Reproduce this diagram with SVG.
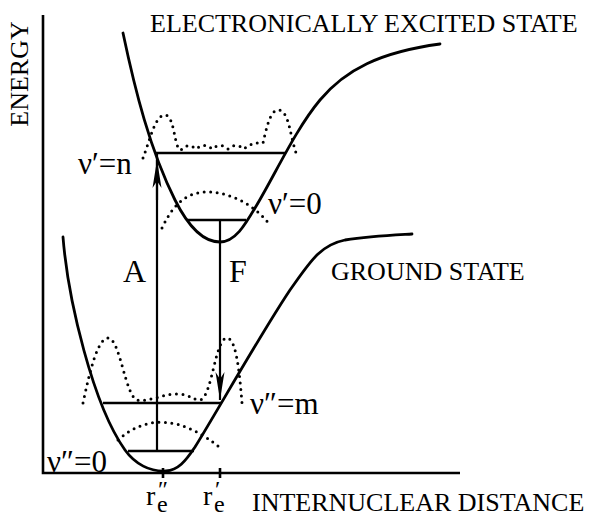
<svg xmlns="http://www.w3.org/2000/svg" width="591" height="518" viewBox="0 0 591 518">
<style>
.curve{fill:none;stroke:#000;stroke-width:2.8;stroke-linecap:round;stroke-linejoin:round}
.level{fill:none;stroke:#000;stroke-width:2.6}
.axis{fill:none;stroke:#000;stroke-width:2.6}
.wave{fill:none;stroke:#000;stroke-width:3;stroke-linecap:round;stroke-dasharray:0 6.5}
.trans{fill:none;stroke:#000;stroke-width:2.2}
.lbl{font-family:"Liberation Serif","Times New Roman",serif;fill:#000}
</style>
<defs>
<marker id="arr" viewBox="-30 -6 32 12" refX="0" refY="0" markerWidth="32" markerHeight="12" markerUnits="userSpaceOnUse" orient="auto">
<path d="M0,0 L-28,-4.5 L-21,0 L-28,4.5 Z" fill="#000"/>
</marker>
</defs>
<rect width="591" height="518" fill="#fff"/>
<g id="axes">
<path class="axis" d="M43,15 V473 H460"/>
<path class="axis" d="M163,468 V478 M220,468 V478"/>
</g>
<g id="ground-state">
<path class="curve" d="M63,237 C68,300 93,405 125,450 C135,464 150,472 166,471 C178,470 185,462 195,447 C215,415 260,335 290,290 C310,262 320,245 345,240 C370,236 395,235 412,234"/>
<path class="level" d="M103,403 H221 M128,451 H194"/>
<path class="wave" d="M118,440 Q163,400 223,450"/>
<path class="wave" d="M83,403 C90,370 98,338 108,338 C120,338 125,395 137,400 C150,402 162,394 177,394 C190,394 192,400 200,400 C212,398 215,338 227,338 C237,338 240,380 242,403"/>
</g>
<g id="excited-state">
<path class="curve" d="M123,33 C135,90 150,150 175,200 C185,220 200,242 220,242 C235,242 245,225 255,208 C275,175 295,130 320,100 C345,70 380,52 440,44"/>
<path class="level" d="M155,153 H286 M187,220 H246"/>
<path class="wave" d="M162,228 C175,200 190,192 207,192 C230,192 255,205 270,225"/>
<path class="wave" d="M143,158 C150,140 155,115 165,115 C175,115 174,150 181,150 Q188,142 196,149 Q204,142 212,149 Q220,142 228,149 Q236,142 244,149 Q252,142 263,143 C266,130 270,110 278,110 C290,110 290,140 298,158"/>
</g>
<g id="connectors">
<path class="trans" d="M157,451 V154"/>
<path class="trans" d="M157,200 V160" marker-end="url(#arr)"/>
<path class="trans" d="M220,220 V400" marker-end="url(#arr)"/>
</g>
<g id="labels">
<text class="lbl" x="150" y="32" font-size="26">ELECTRONICALLY EXCITED STATE</text>
<text class="lbl" font-size="26" text-anchor="middle" transform="translate(28,74) rotate(-90)">ENERGY</text>
<text class="lbl" x="331" y="280" font-size="26">GROUND STATE</text>
<text class="lbl" x="252" y="511" font-size="26">INTERNUCLEAR DISTANCE</text>
<text class="lbl" x="123" y="282" font-size="32">A</text>
<text class="lbl" x="229" y="282" font-size="32">F</text>
<text class="lbl" x="78" y="174" font-size="31">ν′=n</text>
<text class="lbl" x="268" y="214" font-size="31">ν′=0</text>
<text class="lbl" x="250" y="414" font-size="31">ν″=m</text>
<text class="lbl" x="47" y="472" font-size="31">ν″=0</text>
<text class="lbl" x="146" y="505" font-size="28">r<tspan x="158" y="497" font-size="24">″</tspan><tspan x="157" y="512" font-size="24">e</tspan></text>
<text class="lbl" x="203" y="505" font-size="28">r<tspan x="215" y="497" font-size="24">′</tspan><tspan x="214" y="512" font-size="24">e</tspan></text>
</g>
</svg>
